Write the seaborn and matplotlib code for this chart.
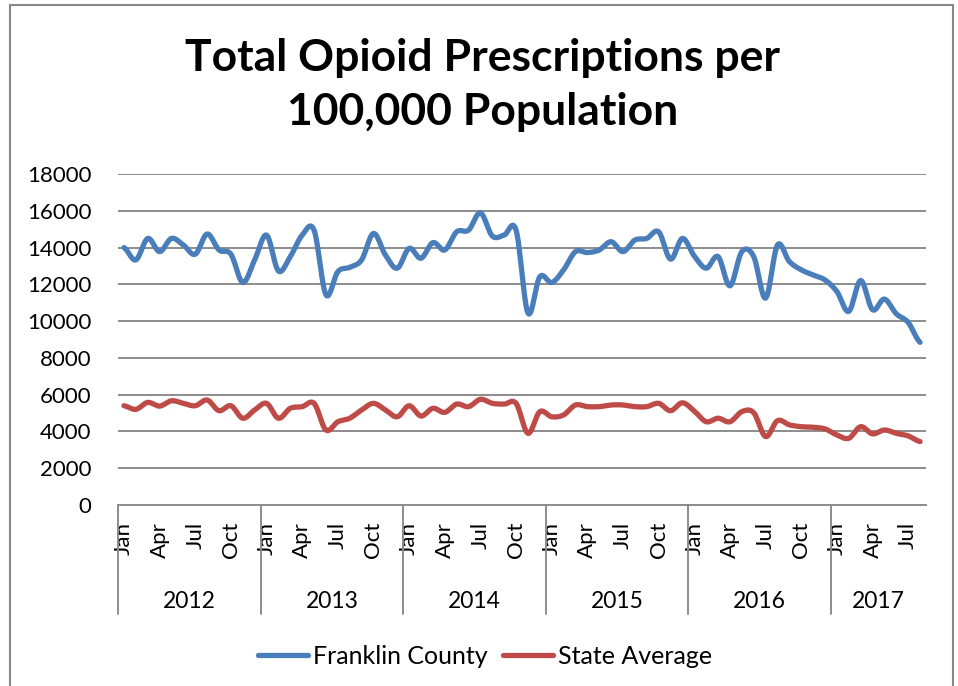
import numpy as np
import pandas as pd
import matplotlib.pyplot as plt
import seaborn as sns
from matplotlib.patches import Rectangle
from matplotlib.lines import Line2D

# dane (styczen 2012 - sierpien 2017)
years = ["2012", "2013", "2014", "2015", "2016", "2017"]
month_ticks = ["Jan", "Apr", "Jul", "Oct"]
franklin = [14000, 13330, 14500, 13780, 14500, 14140, 13640, 14740, 13870, 13640, 12100, 13330,
            14680, 12730, 13510, 14680, 14950, 11430, 12690, 12930, 13330, 14770, 13600, 12880,
            13960, 13420, 14270, 13870, 14860, 14950, 15890, 14630, 14680, 14950, 10440, 12420,
            12100, 12790, 13780, 13730, 13870, 14320, 13780, 14410, 14500, 14860, 13370, 14500,
            13540, 12880, 13510, 11920, 13780, 13510, 11250, 14140, 13240, 12790, 12510, 12240,
            11610, 10530, 12210, 10620, 11200, 10400, 9930, 8850]
state = [5400, 5205, 5580, 5380, 5670, 5530, 5400, 5710, 5130, 5400, 4720, 5170,
         5530, 4720, 5260, 5350, 5530, 4080, 4530, 4720, 5170, 5530, 5170, 4800,
         5400, 4840, 5260, 5040, 5490, 5350, 5750, 5530, 5490, 5530, 3900, 5080,
         4800, 4900, 5440, 5350, 5350, 5440, 5440, 5350, 5350, 5530, 5130, 5560,
         5110, 4530, 4720, 4530, 5080, 5020, 3720, 4590, 4360, 4260, 4230, 4140,
         3810, 3630, 4260, 3870, 4080, 3900, 3760, 3450]
series_names = ["Franklin County", "State Average"]
colors = ["#4A7EBB", "#BE4B48"]


def smooth(vals, n=12):
    # wygladzenie jak "smoothed line" w Excelu (Catmull-Rom)
    p = np.asarray(vals, dtype=float)
    m = len(p)
    xs, ys = [], []
    for i in range(m - 1):
        p0 = p[i - 1] if i > 0 else p[i]
        p3 = p[i + 2] if i + 2 < m else p[i + 1]
        t0 = (p[i + 1] - p0) / 2
        t1 = (p3 - p[i]) / 2
        for t in np.linspace(0, 1, n, endpoint=False):
            h00 = 2 * t**3 - 3 * t**2 + 1
            h10 = t**3 - 2 * t**2 + t
            h01 = -2 * t**3 + 3 * t**2
            h11 = t**3 - t**2
            xs.append(i + t)
            ys.append(h00 * p[i] + h10 * t0 + h01 * p[i + 1] + h11 * t1)
    xs.append(m - 1)
    ys.append(p[-1])
    return xs, ys


frames = []
for name, vals in zip(series_names, [franklin, state]):
    xs, ys = smooth(vals)
    frames.append(pd.DataFrame({"x": xs, "value": ys, "series": name}))
df = pd.concat(frames, ignore_index=True)

sns.set_theme(style="white")
plt.rcParams["font.family"] = ["Lato", "DejaVu Sans"]
plt.rcParams["text.color"] = "black"

fig = plt.figure(figsize=(9.58, 6.86), dpi=100)
ax = fig.add_axes([0.1232, 0.2638, 0.8434, 0.4825])

sns.lineplot(data=df, x="x", y="value", hue="series", palette=colors, estimator=None,
             linewidth=3.8, legend=False, ax=ax, solid_capstyle="round")

grid_col = "#8c8c8c"
ax.set_ylim(0, 18000)
ax.set_yticks(range(0, 18001, 2000))
ax.set_yticklabels([str(v) for v in range(0, 18001, 2000)], fontsize=16, color="black")
for v in range(2000, 18001, 2000):
    ax.axhline(v, color=grid_col, lw=1.4, zorder=0)

n = len(franklin)
ax.set_xlim(-0.5, n - 0.5)
tick_pos = [i for i in range(n) if i % 3 == 0]
ax.set_xticks(tick_pos)
ax.set_xticklabels([month_ticks[(i % 12) // 3] for i in tick_pos], rotation=90,
                   fontsize=16, color="black", va="top")
ax.tick_params(axis="both", length=0)
ax.tick_params(axis="y", pad=19)
ax.tick_params(axis="x", pad=12)
ax.set_xlabel("")
ax.set_ylabel("")

for s in ["top", "right", "left"]:
    ax.spines[s].set_visible(False)
ax.spines["bottom"].set_color(grid_col)
ax.spines["bottom"].set_linewidth(1.4)

# linie oddzielajace lata i podpisy lat
trans = ax.get_xaxis_transform()
for k in range(len(years)):
    b = k * 12 - 0.5
    ax.plot([b, b], [0, -0.33], transform=trans, clip_on=False, color=grid_col, lw=1.4)
    end = min((k + 1) * 12, n) - 0.5
    ax.text((b + end) / 2, -0.29, years[k], transform=trans, ha="center", va="center",
            fontsize=16.5, color="black")

fig.text(0.504, 1 - 85 / 686, "Total Opioid Prescriptions per\n100,000 Population",
         ha="center", va="center", fontsize=32, fontweight="bold", linespacing=1.4,
         color="black")

handles = [Line2D([0], [0], color=c, lw=3.8, solid_capstyle="round") for c in colors]
leg = fig.legend(handles, series_names, loc="center", bbox_to_anchor=(485 / 958, 1 - 656 / 686),
                 ncol=2, frameon=False, fontsize=18, handlelength=2.0, handletextpad=0.2,
                 columnspacing=0.6)
for t in leg.get_texts():
    t.set_color("black")

fig.add_artist(Rectangle((10 / 958, -0.01), 943 / 958, 1.01 - 5 / 686, fill=False,
                         edgecolor="#888888", lw=1.5, transform=fig.transFigure))

fig.savefig("out.png", dpi=100)
